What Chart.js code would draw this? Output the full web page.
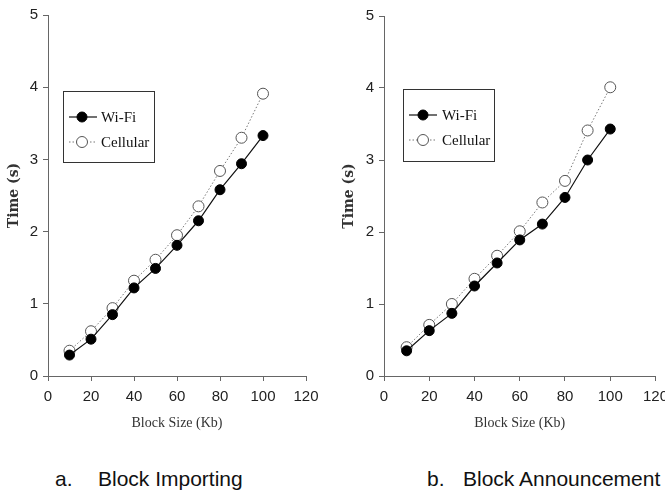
<!DOCTYPE html>
<html>
<head>
<meta charset="utf-8">
<script src="https://cdn.jsdelivr.net/npm/chart.js@4"></script>
<style>
  html, body { margin: 0; padding: 0; background: #fff; overflow: hidden; }
  body { width: 665px; height: 493px; position: relative; }
  canvas { position: absolute; top: 0; }
  #c1 { left: 0; }
  #c2 { left: 335px; }
  .cap { position: absolute; top: 468px; font: 21px "Liberation Sans", Arial, sans-serif; line-height: 21px; color: #111; white-space: nowrap; }
</style>
</head>
<body>
<canvas id="c1" width="330" height="432"></canvas>
<canvas id="c2" width="340" height="432"></canvas>
<div class="cap" style="left:55px">a.</div>
<div class="cap" style="left:98px">Block Importing</div>
<div class="cap" style="left:427px">b.</div>
<div class="cap" style="left:463px">Block Announcement</div>
<script>
// block sizes in Kb
const blockSizes = [10, 20, 30, 40, 50, 60, 70, 80, 90, 100];
const seriesNames = ['Wi-Fi', 'Cellular'];

// a. Block Importing
const importWifi = [0.29, 0.51, 0.85, 1.22, 1.49, 1.81, 2.15, 2.58, 2.94, 3.33];
const importCell = [0.35, 0.62, 0.94, 1.32, 1.61, 1.95, 2.35, 2.84, 3.30, 3.91];

// b. Block Announcement
const announceWifi = [0.35, 0.63, 0.87, 1.25, 1.57, 1.89, 2.11, 2.48, 3.00, 3.43];
const announceCell = [0.40, 0.71, 1.00, 1.35, 1.67, 2.01, 2.41, 2.71, 3.41, 4.01];

const xTitle = 'Block Size (Kb)';
const yTitle = 'Time (s)';

const tickFont = { family: '"Liberation Sans Narrow", "Liberation Sans", Arial, sans-serif', size: 15 };
const axisColor = '#666';

// boxed legend with line + marker, drawn on the canvas
const boxLegend = {
  id: 'boxLegend',
  afterDraw(chart, args, opts) {
    const ctx = chart.ctx;
    ctx.save();
    ctx.strokeStyle = '#333';
    ctx.lineWidth = 1;
    ctx.strokeRect(opts.x + 0.5, opts.y + 0.5, opts.w, opts.h);
    ctx.font = '15px "Liberation Serif", "Times New Roman", serif';
    ctx.textBaseline = 'middle';
    chart.data.datasets.forEach((ds, i) => {
      const ry = opts.rows[i];
      ctx.beginPath();
      ctx.setLineDash(ds.borderDash || []);
      ctx.strokeStyle = ds.borderColor;
      ctx.lineWidth = ds.borderWidth;
      ctx.moveTo(opts.lineX0, ry);
      ctx.lineTo(opts.lineX1, ry);
      ctx.stroke();
      ctx.setLineDash([]);
      ctx.beginPath();
      ctx.arc(opts.markX, ry, ds.pointRadius, 0, Math.PI * 2);
      ctx.fillStyle = ds.pointBackgroundColor;
      ctx.fill();
      ctx.strokeStyle = ds.pointBorderColor;
      ctx.lineWidth = ds.pointBorderWidth;
      ctx.stroke();
      ctx.fillStyle = '#111';
      ctx.fillText(ds.label, opts.textX, ry + 1);
    });
    ctx.restore();
  }
};

function makeChart(id, wifi, cell, yWidth, pad, legendOpts) {
  const toPts = arr => arr.map((v, i) => ({ x: blockSizes[i], y: v }));
  return new Chart(document.getElementById(id), {
    type: 'line',
    data: {
      datasets: [{
        label: seriesNames[0],
        data: toPts(wifi),
        borderColor: '#111',
        borderWidth: 1.2,
        pointRadius: 5,
        pointBackgroundColor: '#000',
        pointBorderColor: '#000',
        pointBorderWidth: 1,
        tension: 0
      }, {
        label: seriesNames[1],
        data: toPts(cell),
        borderColor: '#777',
        borderWidth: 1,
        borderDash: [1.5, 2],
        pointRadius: 5.5,
        pointBackgroundColor: '#fff',
        pointBorderColor: '#555',
        pointBorderWidth: 1,
        tension: 0
      }]
    },
    options: {
      responsive: false,
      animation: false,
      layout: { padding: pad },
      plugins: {
        legend: { display: false },
        tooltip: { enabled: false },
        boxLegend: legendOpts
      },
      scales: {
        x: {
          type: 'linear',
          min: 0,
          max: 120,
          afterFit: s => { s.height = 432 - (432 - pad.bottom - 56 - (pad.xExtra || 0)); },
          ticks: { stepSize: 20, font: tickFont, color: '#222', padding: 7, maxRotation: 0 },
          grid: { drawOnChartArea: false, drawTicks: true, tickLength: 5, color: axisColor },
          border: { color: axisColor, width: 1 },
          title: {
            display: true,
            text: xTitle,
            color: '#333',
            font: { family: '"Liberation Serif", "Times New Roman", serif', size: 14 },
            padding: 0
          }
        },
        y: {
          min: 0,
          max: 5,
          afterFit: s => { s.width = yWidth; },
          ticks: { stepSize: 1, font: tickFont, color: '#222', padding: 5 },
          grid: { drawOnChartArea: false, drawTicks: true, tickLength: 5, color: axisColor },
          border: { color: axisColor, width: 1 },
          title: {
            display: true,
            text: yTitle,
            color: '#333',
            font: { family: '"DejaVu Serif", serif', size: 14, weight: 'bold' },
            padding: { top: 6, bottom: 0 }
          }
        }
      }
    },
    plugins: [boxLegend]
  });
}

makeChart('c1', importWifi, importCell, 48, { left: 0, top: 15, right: 24, bottom: 0 }, {
  x: 63, y: 91, w: 91, h: 71, rows: [117, 142], lineX0: 69, lineX1: 97, markX: 82, textX: 101
});
makeChart('c2', announceWifi, announceCell, 49, { left: 0, top: 16, right: 19, bottom: 0 }, {
  x: 68, y: 89, w: 91, h: 72, rows: [115, 140], lineX0: 74, lineX1: 102, markX: 88, textX: 107
});
</script>
</body>
</html>
